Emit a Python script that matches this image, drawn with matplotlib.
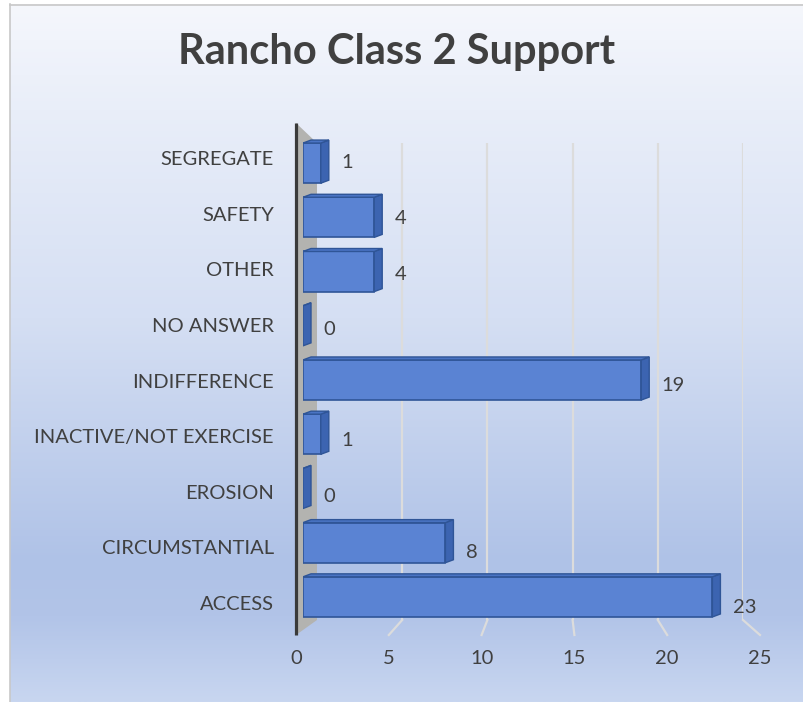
import numpy as np
import matplotlib.pyplot as plt
from matplotlib.patches import Polygon
from matplotlib.lines import Line2D
from matplotlib.colors import LinearSegmentedColormap

plt.rcParams['font.family'] = ['Lato', 'DejaVu Sans']

categories = ['ACCESS', 'CIRCUMSTANTIAL', 'EROSION', 'INACTIVE/NOT EXERCISE',
              'INDIFFERENCE', 'NO ANSWER', 'OTHER', 'SAFETY', 'SEGREGATE']
counts = [23, 8, 0, 1, 19, 0, 4, 4, 1]
x_ticks = [0, 5, 10, 15, 20, 25]
title = 'Rancho Class 2 Support'

TEXT = '#404040'
W, H = 804, 702
fig = plt.figure(figsize=(W / 100, H / 100), dpi=100)


def px_box(left, top, right, bottom):
    # pixel box -> figure fraction rect
    return [left / W, 1 - bottom / H, (right - left) / W, (bottom - top) / H]


# background panel with vertical gradient (runs off the right/bottom edge)
ax_bg = fig.add_axes(px_box(10, 4, W, H), zorder=-5)
grad = LinearSegmentedColormap.from_list('bg', [
    (0.0, '#f5f7fc'), (0.15, '#e9eef9'), (0.45, '#d5dff3'),
    (0.8, '#afc2e7'), (0.88, '#b2c4e8'), (1.0, '#c8d6f0')])
ax_bg.imshow(np.linspace(0, 1, 256)[:, None], aspect='auto', cmap=grad,
             extent=[0, 1, 0, 1], interpolation='bilinear')
ax_bg.axis('off')
fig.add_artist(Line2D([10.5 / W, 10.5 / W], [0, 1 - 4 / H], color='#c8c8c8', lw=1.2))
fig.add_artist(Line2D([10 / W, 1], [1 - 4.5 / H, 1 - 4.5 / H], color='#c8c8c8', lw=1.2))

# back wall (gridlines) and front floor edge (tick labels)
ax_back = fig.add_axes(px_box(317, 143, 743, 620), zorder=-2)
ax_back.set_xlim(0, 25)
ax_back.set_ylim(0, 1)
ax_back.axis('off')
ax_back.vlines(x_ticks[1:], 0, 1, color='#dcdcdc', lw=1.6)

ax_floor = fig.add_axes(px_box(296, 123, 760, 635), zorder=-1)
ax_floor.patch.set_alpha(0)
n = len(categories)
y_lo, y_hi = -0.575, n - 1 + 0.629
ax_floor.set_xlim(0, 25)
ax_floor.set_ylim(y_lo, y_hi)
ax_floor.set_yticks(range(n))
ax_floor.set_yticklabels(categories)
ax_floor.set_xticks(x_ticks)
ax_floor.tick_params(length=0, labelsize=14.5, labelcolor=TEXT)
ax_floor.tick_params(axis='y', pad=16)
ax_floor.tick_params(axis='x', pad=11)
for s in ax_floor.spines.values():
    s.set_visible(False)

to_floor = ax_floor.transData.inverted()
back_pt = lambda x, y: to_floor.transform(ax_back.transData.transform((x, y)))

# side wall
wall = Polygon([(0, y_hi), (0, y_lo), back_pt(0, 0), back_pt(0, 1)],
               closed=True, facecolor='#b3b3b0', edgecolor='none', clip_on=False)
ax_floor.add_patch(wall)
ax_floor.plot([0, 0], [y_lo, y_hi], color='#3a3a3a', lw=2.3,
              solid_capstyle='butt', clip_on=False)

# floor lines from back wall to the front edge
for t in x_ticks[1:]:
    bx, by = back_pt(t, 0)
    ax_floor.plot([bx, t], [by, y_lo], color='#dcdcdc', lw=1.6, clip_on=False)

# bar plane
ax_bar = fig.add_axes(px_box(303, 136, 748, 624), zorder=1)
ax_bar.set_xlim(0, 25)
ax_bar.set_ylim(-0.5, n - 0.5)
ax_bar.axis('off')

bar_h = 0.74
dx, dy = 0.45, 0.055
front, edge, side, top = '#5a83d3', '#2f5597', '#3c64b1', '#4a74c4'
ypos = np.arange(n)
ax_bar.barh(ypos, counts, height=bar_h, color=front, edgecolor=edge, lw=1.2)
for i, v in enumerate(counts):
    y0, y1 = i - bar_h / 2, i + bar_h / 2
    ax_bar.add_patch(Polygon([(v, y0), (v + dx, y0 + dy), (v + dx, y1 + dy), (v, y1)],
                             closed=True, facecolor=side, edgecolor=edge, lw=1.0))
    ax_bar.add_patch(Polygon([(0, y1), (dx, y1 + dy), (v + dx, y1 + dy), (v, y1)],
                             closed=True, facecolor=top, edgecolor=edge, lw=1.0))
    # value label: x from the bar plane, y from the category rows
    ax_bar.annotate(str(v), xy=(v + dx, i), xycoords=(ax_bar.transData, ax_floor.transData),
                    xytext=(9, -3.5), textcoords='offset points',
                    ha='left', va='center', fontsize=14.5, color=TEXT)

fig.text(397 / W, 1 - 52 / H, title, ha='center', va='center',
         fontsize=30, fontweight='bold', color=TEXT)

fig.savefig('out.png', dpi=100)
